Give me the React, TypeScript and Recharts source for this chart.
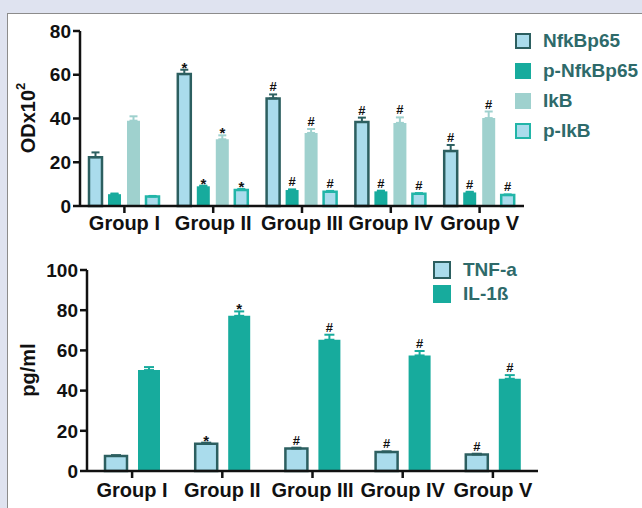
import React from 'react'
import { BarChart, Bar, XAxis, YAxis, ErrorBar, LabelList, Legend } from 'recharts'

// x categories
const groups = ['Group I', 'Group II', 'Group III', 'Group IV', 'Group V']

// upper panel: OD x 10^2
const nfkbp65 = [22.3, 60.3, 49.2, 38.4, 25.1]
const nfkbp65Err = [2.2, 2.0, 1.8, 2.0, 2.8]
const pNfkbp65 = [5.4, 9.0, 7.3, 6.7, 6.2]
const pNfkbp65Err = [0.3, 0.3, 0.3, 0.3, 0.3]
const ikb = [39.0, 30.5, 33.4, 38.0, 40.2]
const ikbErr = [2.0, 1.8, 1.8, 2.5, 3.0]
const pIkb = [4.3, 7.3, 6.5, 5.6, 5.0]
const pIkbErr = [0.3, 0.5, 0.4, 0.3, 0.3]
const topTicks = [0, 20, 40, 60, 80]

// lower panel: pg/ml
const tnf = [7.5, 13.6, 11.2, 9.4, 8.2]
const tnfErr = [0.4, 0.5, 0.4, 0.4, 0.4]
const il1b = [50.2, 77.2, 65.3, 57.5, 45.9]
const il1bErr = [1.5, 2.2, 2.5, 2.2, 1.8]
const bottomTicks = [0, 20, 40, 60, 80, 100]

// significance marks
const marks = ['', '*', '#', '#', '#']

// legend order as in the figure
const legendOrder = ['nfk', 'pnfk', 'ikb', 'pikb', 'tnf', 'il']

const FONT = '"Liberation Sans", Arial, sans-serif'
const LIGHT = '#aadcec'
const DARK = '#2c5f60'
const TEAL = '#17ab9d'
const PALE = '#9fd1ce'
const TEAL_EDGE = '#22b5a8'
const LEGEND_TEXT = '#2e6a6a'
const INK = '#111'

const topData = groups.map((g, i) => ({
  group: g,
  nfk: nfkbp65[i],
  nfkE: [0, nfkbp65Err[i]],
  pnfk: pNfkbp65[i],
  pnfkE: [0, pNfkbp65Err[i]],
  ikb: ikb[i],
  ikbE: [0, ikbErr[i]],
  pikb: pIkb[i],
  pikbE: [0, pIkbErr[i]],
}))

const bottomData = groups.map((g, i) => ({
  group: g,
  tnf: tnf[i],
  tnfE: [0, tnfErr[i]],
  il: il1b[i],
  ilE: [0, il1bErr[i]],
}))

const boxStyles: Record<string, React.CSSProperties> = {
  nfk: { background: LIGHT, border: `2.5px solid ${DARK}` },
  pnfk: { background: TEAL },
  ikb: { background: PALE },
  pikb: { background: LIGHT, border: `2.5px solid ${TEAL_EDGE}` },
  tnf: { background: LIGHT, border: `2.5px solid ${DARK}` },
  il: { background: TEAL },
}

const markLabel = (values: number[], errs: number[]) => (props: any) => {
  const vb = props.viewBox ?? props
  const { x, y, width, height } = vb
  const i = props.index
  const m = marks[i]
  if (!m) return null
  const perUnit = Math.abs(height) / values[i]
  const top = Math.min(y, y + height) - errs[i] * perUnit
  return (
    <text
      x={x + width / 2}
      y={m === '*' ? top + 3 : top - 3}
      textAnchor="middle"
      fontSize={m === '*' ? 15 : 13}
      fontWeight="bold"
      fontFamily={FONT}
      fill={INK}
    >
      {m}
    </text>
  )
}

const makeLegend = (rowH: number, box: number) => (props: any) => {
  const payload = [...(props.payload || [])].sort(
    (a: any, b: any) => legendOrder.indexOf(a.dataKey) - legendOrder.indexOf(b.dataKey)
  )
  return (
    <div style={{ fontFamily: FONT }}>
      {payload.map((p: any) => (
        <div key={p.dataKey} style={{ height: rowH, display: 'flex', alignItems: 'center' }}>
          <span
            style={{
              width: box,
              height: box,
              boxSizing: 'border-box',
              display: 'inline-block',
              marginRight: 12,
              ...boxStyles[p.dataKey],
            }}
          />
          <span style={{ fontSize: 19, fontWeight: 'bold', color: LEGEND_TEXT }}>{p.value}</span>
        </div>
      ))}
    </div>
  )
}

const axisLine = { stroke: INK, strokeWidth: 2.5 }
const tickFont = { fill: INK, fontSize: 20, fontWeight: 'bold', fontFamily: FONT }
const yTickFont = { fill: INK, fontSize: 19, fontWeight: 'bold', fontFamily: FONT }

const YTitle = ({ cx, cy, children }: any) => (
  <text
    x={cx}
    y={cy}
    transform={`rotate(-90 ${cx} ${cy})`}
    textAnchor="middle"
    dominantBaseline="central"
    fontSize={20}
    fontWeight="bold"
    fontFamily={FONT}
    fill={INK}
  >
    {children}
  </text>
)

export default function App() {
  return (
    <div style={{ position: 'absolute', left: 0, top: 0, width: 642, height: 508, background: '#dfe3f0', overflow: 'hidden' }}>
      <div
        style={{
          position: 'absolute',
          left: 7,
          top: 13,
          width: 700,
          height: 600,
          background: '#fff',
          border: '1px solid #8c8c8c',
        }}
      />
      <div style={{ position: 'absolute', left: 0, top: 0 }}>
        <BarChart width={642} height={240} data={topData} barGap={6} margin={{ top: 31, right: 118, bottom: 0, left: 20 }}>
          <XAxis
            dataKey="group"
            height={34}
            interval={0}
            axisLine={axisLine}
            tickLine={axisLine}
            tickSize={7}
            tickMargin={3}
            tick={tickFont}
          />
          <YAxis
            width={60}
            domain={[0, 80]}
            ticks={topTicks}
            interval={0}
            axisLine={axisLine}
            tickLine={axisLine}
            tickSize={7}
            tickMargin={2}
            tick={yTickFont}
            label={{
              content: () => (
                <YTitle cx={28} cy={118}>
                  ODx10<tspan dy={-8} fontSize={13}>2</tspan>
                </YTitle>
              ),
            }}
          />
          <Legend
            layout="vertical"
            align="center"
            verticalAlign="middle"
            wrapperStyle={{ left: 515, top: 26, width: 127 }}
            content={makeLegend(30, 16)}
          />
          <Bar dataKey="nfk" name="NfkBp65" barSize={13} fill={LIGHT} stroke={DARK} strokeWidth={2.5} isAnimationActive={false}>
            <ErrorBar dataKey="nfkE" width={4} stroke={DARK} strokeWidth={2} />
            <LabelList dataKey="nfk" content={markLabel(nfkbp65, nfkbp65Err)} />
          </Bar>
          <Bar dataKey="pnfk" name="p-NfkBp65" barSize={13} fill={TEAL} isAnimationActive={false}>
            <ErrorBar dataKey="pnfkE" width={4} stroke={TEAL} strokeWidth={2} />
            <LabelList dataKey="pnfk" content={markLabel(pNfkbp65, pNfkbp65Err)} />
          </Bar>
          <Bar dataKey="ikb" name="IkB" barSize={13} fill={PALE} isAnimationActive={false}>
            <ErrorBar dataKey="ikbE" width={4} stroke={PALE} strokeWidth={2} />
            <LabelList dataKey="ikb" content={markLabel(ikb, ikbErr)} />
          </Bar>
          <Bar dataKey="pikb" name="p-IkB" barSize={13} fill={LIGHT} stroke={TEAL_EDGE} strokeWidth={2.5} isAnimationActive={false}>
            <ErrorBar dataKey="pikbE" width={4} stroke={TEAL_EDGE} strokeWidth={2} />
            <LabelList dataKey="pikb" content={markLabel(pIkb, pIkbErr)} />
          </Bar>
        </BarChart>
      </div>
      <div style={{ position: 'absolute', left: 0, top: 240 }}>
        <BarChart width={642} height={268} data={bottomData} barGap={11} margin={{ top: 30, right: 104, bottom: 0, left: 25 }}>
          <XAxis
            dataKey="group"
            height={37}
            interval={0}
            axisLine={axisLine}
            tickLine={axisLine}
            tickSize={7}
            tickMargin={5}
            tick={tickFont}
          />
          <YAxis
            width={62}
            domain={[0, 100]}
            ticks={bottomTicks}
            interval={0}
            axisLine={axisLine}
            tickLine={axisLine}
            tickSize={7}
            tickMargin={2}
            tick={yTickFont}
            label={{ content: () => <YTitle cx={28} cy={130}>pg/ml</YTitle> }}
          />
          <Legend
            layout="vertical"
            align="center"
            verticalAlign="middle"
            wrapperStyle={{ left: 433, top: 18, width: 150 }}
            content={makeLegend(24, 18)}
          />
          <Bar dataKey="tnf" name="TNF-a" barSize={22} fill={LIGHT} stroke={DARK} strokeWidth={2.5} isAnimationActive={false}>
            <ErrorBar dataKey="tnfE" width={5} stroke={DARK} strokeWidth={2} />
            <LabelList dataKey="tnf" content={markLabel(tnf, tnfErr)} />
          </Bar>
          <Bar dataKey="il" name="IL-1ß" barSize={22} fill={TEAL} isAnimationActive={false}>
            <ErrorBar dataKey="ilE" width={5} stroke={TEAL} strokeWidth={2} />
            <LabelList dataKey="il" content={markLabel(il1b, il1bErr)} />
          </Bar>
        </BarChart>
      </div>
    </div>
  )
}
